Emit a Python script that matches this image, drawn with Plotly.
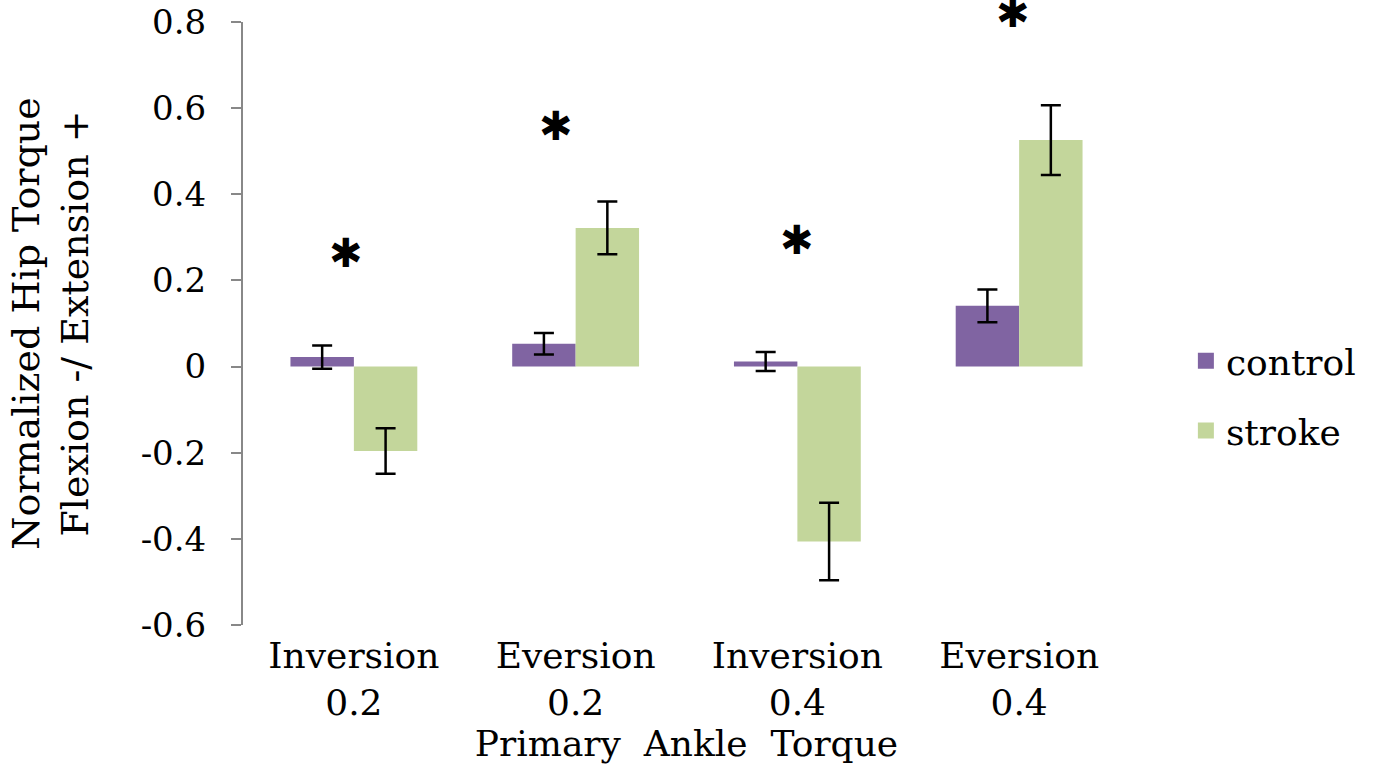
import plotly.graph_objects as go

categories = ["Inversion<br>0.2", "Eversion<br>0.2", "Inversion<br>0.4", "Eversion<br>0.4"]
control_vals = [0.022, 0.053, 0.012, 0.141]
control_err = [0.027, 0.025, 0.022, 0.038]
stroke_vals = [-0.196, 0.322, -0.406, 0.526]
stroke_err = [0.053, 0.061, 0.090, 0.081]
star_y = [0.264, 0.558, 0.294, 0.822]
star_shift = [-8, -20, 0, -6]
ytick_vals = [-0.6, -0.4, -0.2, 0, 0.2, 0.4, 0.6, 0.8]
ytick_text = ["-0.6", "-0.4", "-0.2", "0", "0.2", "0.4", "0.6", "0.8"]
y_min, y_max = -0.6, 0.8

FONT = "DejaVu Serif"
PURPLE = "#8064A2"
GREEN = "#C3D69B"

fig = go.Figure()
fig.add_trace(go.Bar(
    name="control", x=categories, y=control_vals,
    marker=dict(color=PURPLE, line=dict(width=0)),
    error_y=dict(type="data", array=control_err, color="black", thickness=2.5, width=10),
    showlegend=False,
))
fig.add_trace(go.Bar(
    name="stroke", x=categories, y=stroke_vals,
    marker=dict(color=GREEN, line=dict(width=0)),
    error_y=dict(type="data", array=stroke_err, color="black", thickness=2.5, width=10),
    showlegend=False,
))
# legend entries (square swatches like the original)
for name, col, grp in [("control", PURPLE, "a"), ("stroke", GREEN, "b")]:
    fig.add_trace(go.Scatter(x=[None], y=[None], mode="markers", name=name,
                             marker=dict(symbol="square", size=20, color=col),
                             legendgroup=grp, showlegend=True))

for c, yv, sh in zip(categories, star_y, star_shift):
    fig.add_annotation(x=c, y=(yv - y_min) / (y_max - y_min), xref="x", yref="paper",
                       xanchor="center", yanchor="middle",
                       text="✱", showarrow=False, xshift=sh,
                       font=dict(family="DejaVu Sans", size=40, color="black"))

fig.update_layout(
    width=1373, height=774,
    margin=dict(l=243, r=241, t=22, b=149),
    paper_bgcolor="white", plot_bgcolor="white",
    barmode="group", bargap=0.428, bargroupgap=0,
    font=dict(family=FONT, size=36, color="black"),
    showlegend=True,
    legend=dict(x=1.063, xanchor="left", y=0.38, yanchor="middle",
                font=dict(family=FONT, size=36, color="black"),
                tracegroupgap=20, bgcolor="rgba(0,0,0,0)"),
    xaxis=dict(showline=False, ticks="", showgrid=False, zeroline=False, automargin=False,
               tickfont=dict(family=FONT, size=36), ticklabelstandoff=6,
               title=dict(text="Primary  Ankle  Torque", font=dict(family=FONT, size=36), standoff=6)),
    yaxis=dict(range=[y_min, y_max], tickvals=ytick_vals, ticktext=ytick_text, automargin=False,
               showline=True, linecolor="#888888", linewidth=2,
               ticks="outside", tickcolor="#888888", tickwidth=2, ticklen=10,
               showgrid=False, zeroline=False,
               tickfont=dict(family=FONT, size=34), ticklabelstandoff=18,
               title=dict(text="Normalized Hip Torque<br>Flexion -/ Extension +",
                          font=dict(family=FONT, size=38), standoff=40)),
)

fig.write_html("out.html")
